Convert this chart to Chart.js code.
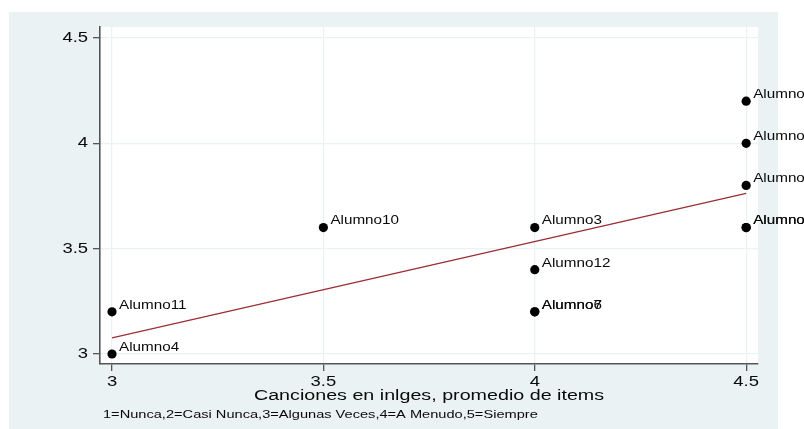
<!DOCTYPE html>
<html>
<head>
<meta charset="utf-8">
<script src="https://cdn.jsdelivr.net/npm/chart.js@4.4.1/dist/chart.umd.min.js"></script>
<style>
  html, body { margin: 0; padding: 0; background: #fff; }
  canvas { display: block; }
</style>
</head>
<body>
<canvas id="chart" width="804" height="429"></canvas>
<script>
// data
const students = ['Alumno1', 'Alumno2', 'Alumno3', 'Alumno4', 'Alumno5', 'Alumno6',
                  'Alumno7', 'Alumno8', 'Alumno9', 'Alumno10', 'Alumno11', 'Alumno12'];
const canciones = [4.5, 4.5, 4, 3, 4.5, 4, 4, 4.5, 4.5, 3.5, 3, 4];
const puntaje   = [4.2, 4.0, 3.6, 3.0, 3.8, 3.2, 3.2, 3.6, 3.6, 3.6, 3.2, 3.4];

// fitted line end points
const fitX = [3, 4.5];
const fitY = [3.076, 3.762];

const xTicks = [3, 3.5, 4, 4.5];
const yTicks = [3, 3.5, 4, 4.5];
const xTitle = 'Canciones en inlges, promedio de items';
const note = '1=Nunca,2=Casi Nunca,3=Algunas Veces,4=A Menudo,5=Siempre';

// the original graph text is a bit wide, so stretch it a little
const STRETCH = 1.27;
const FONT = '"Liberation Sans", Arial, sans-serif';

function wideText(ctx, text, x, y, size, align, baseline) {
    ctx.save();
    ctx.font = size + 'px ' + FONT;
    ctx.textAlign = align;
    ctx.textBaseline = baseline;
    ctx.translate(x, y);
    ctx.scale(STRETCH, 1);
    ctx.fillText(text, 0, 0);
    ctx.restore();
}

// 🔹 background: grey graph region, white plot region
const backdrop = {
    id: 'backdrop',
    beforeDraw(chart) {
        const ctx = chart.ctx;
        const a = chart.chartArea;
        ctx.save();
        ctx.fillStyle = '#ffffff';
        ctx.fillRect(0, 0, chart.width, chart.height);
        ctx.fillStyle = '#eaf2f3';
        ctx.fillRect(9, 12, 769, 417);
        ctx.fillStyle = '#ffffff';
        ctx.fillRect(a.left, a.top, a.right - a.left, a.bottom - a.top);
        ctx.restore();
    }
};

// 🔹 text: tick labels, titles, point labels
const texts = {
    id: 'texts',
    afterDraw(chart) {
        const ctx = chart.ctx;
        const xs = chart.scales.x;
        const ys = chart.scales.y;
        const a = chart.chartArea;
        ctx.save();
        ctx.fillStyle = '#0a0a0a';

        xTicks.forEach(v => {
            wideText(ctx, String(v), xs.getPixelForValue(v), a.bottom + 18, 14.5, 'center', 'middle');
        });
        yTicks.forEach(v => {
            wideText(ctx, String(v), a.left - 12, ys.getPixelForValue(v), 14.5, 'right', 'middle');
        });

        wideText(ctx, xTitle, (a.left + a.right) / 2, a.bottom + 32, 15.5, 'center', 'middle');
        wideText(ctx, note, 103, 415, 11.5, 'left', 'middle');

        const meta = chart.getDatasetMeta(0);
        meta.data.forEach((pt, i) => {
            wideText(ctx, students[i], pt.x + 7, pt.y - 6.5, 12, 'left', 'middle');
        });
        ctx.restore();
    }
};

const points = students.map((s, i) => ({ x: canciones[i], y: puntaje[i] }));
const fitLine = fitX.map((v, i) => ({ x: v, y: fitY[i] }));

const ctx = document.getElementById('chart').getContext('2d');

new Chart(ctx, {
    type: 'scatter',
    data: {
        datasets: [{
            label: 'Puntaje',
            data: points,
            pointRadius: 4.6,
            pointHoverRadius: 4.6,
            backgroundColor: '#000000',
            borderWidth: 0
        }, {
            type: 'line',
            label: 'Fitted values',
            data: fitLine,
            borderColor: '#9b2d35',
            borderWidth: 1.3,
            pointRadius: 0,
            fill: false
        }]
    },
    options: {
        responsive: false,
        animation: false,
        events: [],
        layout: {
            padding: { left: 40, right: 46, top: 27, bottom: 5 }
        },
        plugins: {
            legend: { display: false },
            tooltip: { enabled: false }
        },
        scales: {
            x: {
                type: 'linear',
                min: 2.9716,
                max: 4.528,
                afterBuildTicks: scale => { scale.ticks = xTicks.map(v => ({ value: v })); },
                afterFit: scale => { scale.height = 60; },
                ticks: { display: false },
                grid: { color: '#eaf2f3', lineWidth: 1.3, tickLength: 7, tickColor: '#555555', tickWidth: 1.3 },
                border: { display: true, color: '#555555', width: 1.6 }
            },
            y: {
                type: 'linear',
                min: 2.9525,
                max: 4.552,
                afterBuildTicks: scale => { scale.ticks = yTicks.map(v => ({ value: v })); },
                afterFit: scale => { scale.width = 60; },
                ticks: { display: false },
                grid: { color: '#eaf2f3', lineWidth: 1.3, tickLength: 7, tickColor: '#555555', tickWidth: 1.3 },
                border: { display: true, color: '#555555', width: 1.6 }
            }
        }
    },
    plugins: [backdrop, texts]
});
</script>
</body>
</html>
